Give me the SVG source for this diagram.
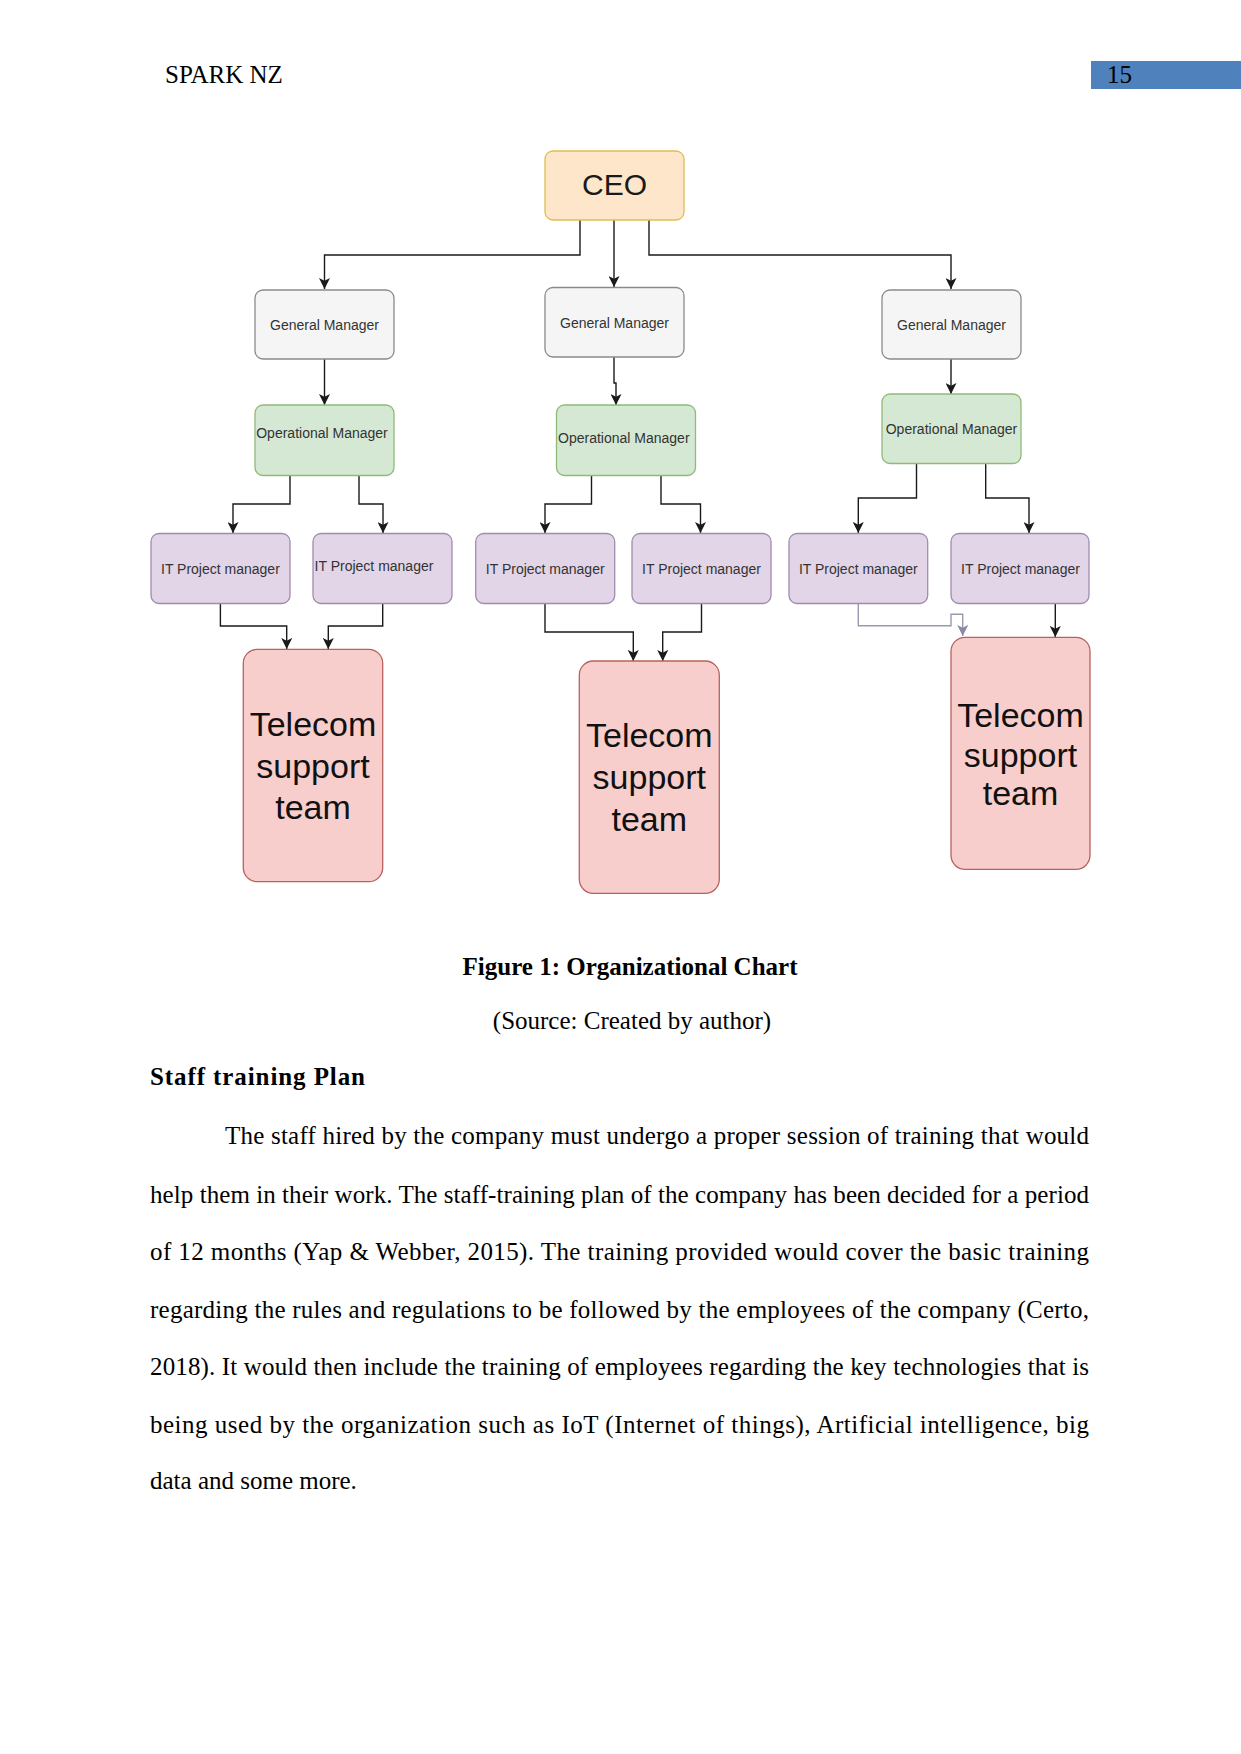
<svg xmlns="http://www.w3.org/2000/svg" width="1241" height="1754" viewBox="0 0 1241 1754">
<style>
.doc{font-family:"Liberation Serif","Times New Roman",serif;font-size:25px;fill:#000}
.b{font-weight:bold}
.lbl{font-family:"Liberation Sans",Arial,sans-serif;font-size:14px;fill:#333;text-anchor:middle}
.big{font-family:"Liberation Sans",Arial,sans-serif;font-size:34px;fill:#111;text-anchor:middle}
.ceo{fill:#fde6c9;stroke:#e0bd52;stroke-width:1.3}
.gm{fill:#f5f5f5;stroke:#8a8a8a;stroke-width:1.3}
.om{fill:#d5e8d4;stroke:#8fba78;stroke-width:1.3}
.it{fill:#e1d5e7;stroke:#a08cad;stroke-width:1.3}
.tc{fill:#f8cecc;stroke:#b8625e;stroke-width:1.3}
.c{fill:none;stroke:#1a1a1a;stroke-width:1.4}
.cg{fill:none;stroke:#9a9aae;stroke-width:1.4}
</style>
<defs>
<marker id="ah" viewBox="0 0 10 10" refX="10" refY="5" markerWidth="11" markerHeight="11" markerUnits="userSpaceOnUse" orient="auto">
<path d="M0,0 L10,5 L0,10 L2.5,5 z" fill="#1a1a1a"/>
</marker>
<marker id="ahg" viewBox="0 0 10 10" refX="10" refY="5" markerWidth="11" markerHeight="11" markerUnits="userSpaceOnUse" orient="auto">
<path d="M0,0 L10,5 L0,10 L2.5,5 z" fill="#8a8aa8"/>
</marker>
</defs>
<rect width="1241" height="1754" fill="#fff"/>

<g id="header">
<text class="doc" x="165" y="83">SPARK NZ</text>
<rect x="1091" y="61" width="150" height="28" fill="#4f81bd"/>
<text class="doc" x="1107" y="83">15</text>
</g>

<g id="connectors">
<path class="c" d="M580,220 V255 H324.5 V289" marker-end="url(#ah)"/>
<path class="c" d="M614,220 V287" marker-end="url(#ah)"/>
<path class="c" d="M649,220 V255 H951 V289" marker-end="url(#ah)"/>
<path class="c" d="M324.5,359 V405" marker-end="url(#ah)"/>
<path class="c" d="M614,357 V383 H616 V405" marker-end="url(#ah)"/>
<path class="c" d="M951,359 V394" marker-end="url(#ah)"/>
<path class="c" d="M290,476 V504 H233 V533" marker-end="url(#ah)"/>
<path class="c" d="M359,476 V504 H383 V533" marker-end="url(#ah)"/>
<path class="c" d="M591.5,476 V504 H545 V533" marker-end="url(#ah)"/>
<path class="c" d="M661,476 V504 H700.5 V533" marker-end="url(#ah)"/>
<path class="c" d="M916.5,463 V498 H858.3 V533" marker-end="url(#ah)"/>
<path class="c" d="M985.7,463 V498 H1029 V533" marker-end="url(#ah)"/>
<path class="c" d="M220.4,603 V626 H286.7 V649" marker-end="url(#ah)"/>
<path class="c" d="M382.7,603 V626 H328.3 V649" marker-end="url(#ah)"/>
<path class="c" d="M545,603 V632 H633.3 V661" marker-end="url(#ah)"/>
<path class="c" d="M701.5,603 V632 H662.7 V661" marker-end="url(#ah)"/>
<path class="cg" d="M858.3,603 V625.7 H951 V614.3 H962.7 V636" marker-end="url(#ahg)"/>
<path class="c" d="M1055.3,603 V637" marker-end="url(#ah)"/>
</g>

<g id="ceo">
<rect class="ceo" x="545" y="151" width="139" height="69" rx="8"/>
<text x="614.5" y="195" font-family="Liberation Sans, Arial, sans-serif" font-size="30" fill="#1a1a1a" text-anchor="middle">CEO</text>
</g>

<g id="gm1"><rect class="gm" x="255" y="290" width="139" height="69" rx="8"/><text class="lbl" x="324.5" y="330">General Manager</text></g>
<g id="gm2"><rect class="gm" x="545" y="287.5" width="139" height="69.5" rx="8"/><text class="lbl" x="614.5" y="327.5">General Manager</text></g>
<g id="gm3"><rect class="gm" x="882" y="290" width="139" height="69" rx="8"/><text class="lbl" x="951.5" y="330">General Manager</text></g>

<g id="om1"><rect class="om" x="255" y="405" width="139" height="70.5" rx="8"/><text class="lbl" x="322" y="437.7">Operational Manager</text></g>
<g id="om2"><rect class="om" x="556.5" y="405" width="139" height="70.5" rx="8"/><text class="lbl" x="623.8" y="443.3">Operational Manager</text></g>
<g id="om3"><rect class="om" x="882" y="394" width="139" height="69.5" rx="8"/><text class="lbl" x="951.5" y="434.3">Operational Manager</text></g>

<g id="it1"><rect class="it" x="151" y="533.5" width="139" height="70" rx="8"/><text class="lbl" x="220.4" y="574">IT Project manager</text></g>
<g id="it2"><rect class="it" x="313" y="533.5" width="139" height="70" rx="8"/><text class="lbl" x="374" y="571">IT Project manager</text></g>
<g id="it3"><rect class="it" x="475.7" y="533.5" width="139" height="70" rx="8"/><text class="lbl" x="545.2" y="574">IT Project manager</text></g>
<g id="it4"><rect class="it" x="632" y="533.5" width="139" height="70" rx="8"/><text class="lbl" x="701.5" y="574">IT Project manager</text></g>
<g id="it5"><rect class="it" x="789" y="533.5" width="138.7" height="70" rx="8"/><text class="lbl" x="858.3" y="574">IT Project manager</text></g>
<g id="it6"><rect class="it" x="951" y="533.5" width="138" height="70" rx="8"/><text class="lbl" x="1020.5" y="574">IT Project manager</text></g>

<g id="tc1"><rect class="tc" x="243.3" y="649.3" width="139.4" height="232.4" rx="14"/>
<text class="big" x="313"><tspan x="313" y="736">Telecom</tspan><tspan x="313" y="777.5">support</tspan><tspan x="313" y="819">team</tspan></text></g>
<g id="tc2"><rect class="tc" x="579.3" y="661" width="140" height="232.3" rx="14"/>
<text class="big" x="649.3"><tspan x="649.3" y="747">Telecom</tspan><tspan x="649.3" y="788.5">support</tspan><tspan x="649.3" y="830.5">team</tspan></text></g>
<g id="tc3"><rect class="tc" x="951" y="637.3" width="139" height="232" rx="14"/>
<text class="big" x="1020.5"><tspan x="1020.5" y="726.7">Telecom</tspan><tspan x="1020.5" y="766.7">support</tspan><tspan x="1020.5" y="804.5">team</tspan></text></g>

<g id="body">
<text class="doc b" x="630" y="975" text-anchor="middle">Figure 1: Organizational Chart</text>
<text class="doc" x="632" y="1029" text-anchor="middle">(Source: Created by author)</text>
<text class="doc b" x="150" y="1085" font-size="26" textLength="215" lengthAdjust="spacing">Staff training Plan</text>
<text class="doc" x="225" y="1144.3" textLength="864" lengthAdjust="spacing">The staff hired by the company must undergo a proper session of training that would</text>
<text class="doc" x="150" y="1202.7" textLength="939" lengthAdjust="spacing">help them in their work. The staff-training plan of the company has been decided for a period</text>
<text class="doc" x="150" y="1259.8" textLength="939" lengthAdjust="spacing">of 12 months (Yap &amp; Webber, 2015). The training provided would cover the basic training</text>
<text class="doc" x="150" y="1318.3" textLength="939" lengthAdjust="spacing">regarding the rules and regulations to be followed by the employees of the company (Certo,</text>
<text class="doc" x="150" y="1375" textLength="939" lengthAdjust="spacing">2018). It would then include the training of employees regarding the key technologies that is</text>
<text class="doc" x="150" y="1432.7" textLength="939" lengthAdjust="spacing">being used by the organization such as IoT (Internet of things), Artificial intelligence, big</text>
<text class="doc" x="150" y="1489.3">data and some more.</text>
</g>
</svg>
